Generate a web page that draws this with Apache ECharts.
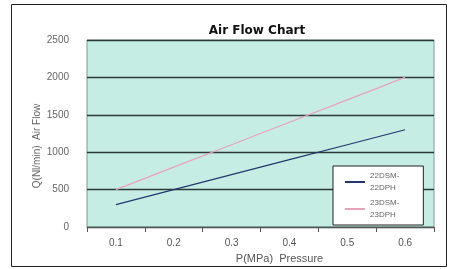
<!DOCTYPE html>
<html>
<head>
<meta charset="utf-8">
<script src="https://cdn.jsdelivr.net/npm/echarts@6/dist/echarts.min.js"></script>
<style>
  html, body { margin: 0; padding: 0; background: #fff; }
  #chart { width: 450px; height: 269px; }
</style>
</head>
<body>
<div id="chart"></div>
<script>
var pressures = ['0.1', '0.2', '0.3', '0.4', '0.5', '0.6']
var flow22 = [300, 500, 700, 900, 1100, 1300]
var flow23 = [500, 800, 1100, 1400, 1700, 2000]
var seriesNames = ['22DSM-\n22DPH', '23DSM-\n23DPH']

var chart = echarts.init(document.getElementById('chart'))
chart.setOption({
  animation: false,
  graphic: [{
    type: 'rect',
    shape: { x: 11.5, y: 4.5, width: 435, height: 262 },
    style: { fill: 'none', stroke: '#222', lineWidth: 1 },
    z: -1
  }, {
    // y axis title, sits a bit below the axis middle in the original
    type: 'text',
    x: 37,
    y: 146,
    rotation: Math.PI / 2,
    style: {
      text: 'Q(Nl/min)  Air Flow',
      fontFamily: 'Liberation Sans',
      fontSize: 10,
      fill: '#666',
      align: 'center',
      verticalAlign: 'middle'
    }
  }],
  title: {
    text: 'Air Flow Chart',
    left: 252,
    top: 20,
    textAlign: 'center',
    textStyle: { fontFamily: 'DejaVu Sans', fontSize: 12, fontWeight: 'bold', color: '#111' }
  },
  grid: {
    left: 87, right: 16, top: 40, bottom: 42,
    show: true,
    backgroundColor: '#c6ede3',
    borderColor: '#7c9a92',
    borderWidth: 1
  },
  legend: {
    orient: 'vertical',
    left: 333,
    top: 166,
    backgroundColor: '#fff',
    borderColor: '#222',
    borderWidth: 1,
    padding: [4, 24, 4, 12],
    itemGap: 3,
    itemWidth: 20,
    itemHeight: 2,
    icon: 'rect',
    data: seriesNames,
    textStyle: { fontFamily: 'Liberation Sans', fontSize: 8, color: '#666', lineHeight: 12 }
  },
  xAxis: {
    type: 'category',
    data: pressures,
    name: 'P(MPa)  Pressure',
    nameLocation: 'middle',
    nameGap: 26,
    nameTextStyle: { fontFamily: 'Liberation Sans', fontSize: 11, color: '#555', padding: [0, 0, 0, 38] },
    axisLine: { lineStyle: { color: '#555' } },
    axisTick: { show: true, lineStyle: { color: '#555' } },
    axisLabel: { fontFamily: 'Liberation Sans', fontSize: 10, color: '#555', margin: 11 }
  },
  yAxis: {
    type: 'value',
    min: 0,
    max: 2500,
    interval: 500,
    axisLine: { show: false },
    axisTick: { show: false },
    axisLabel: {
      fontFamily: 'Liberation Sans', fontSize: 10, color: '#666', margin: 18,
      formatter: function (v) { return String(v) }
    },
    splitLine: { lineStyle: { color: '#2b3a36', width: 1.3 } }
  },
  series: [{
    name: seriesNames[0],
    type: 'line',
    data: flow22,
    symbol: 'none',
    lineStyle: { color: '#23376e', width: 1.2 },
    itemStyle: { color: '#23376e' }
  }, {
    name: seriesNames[1],
    type: 'line',
    data: flow23,
    symbol: 'none',
    lineStyle: { color: '#e7a3bb', width: 1.2 },
    itemStyle: { color: '#e7a3bb' }
  }]
})
</script>
</body>
</html>
